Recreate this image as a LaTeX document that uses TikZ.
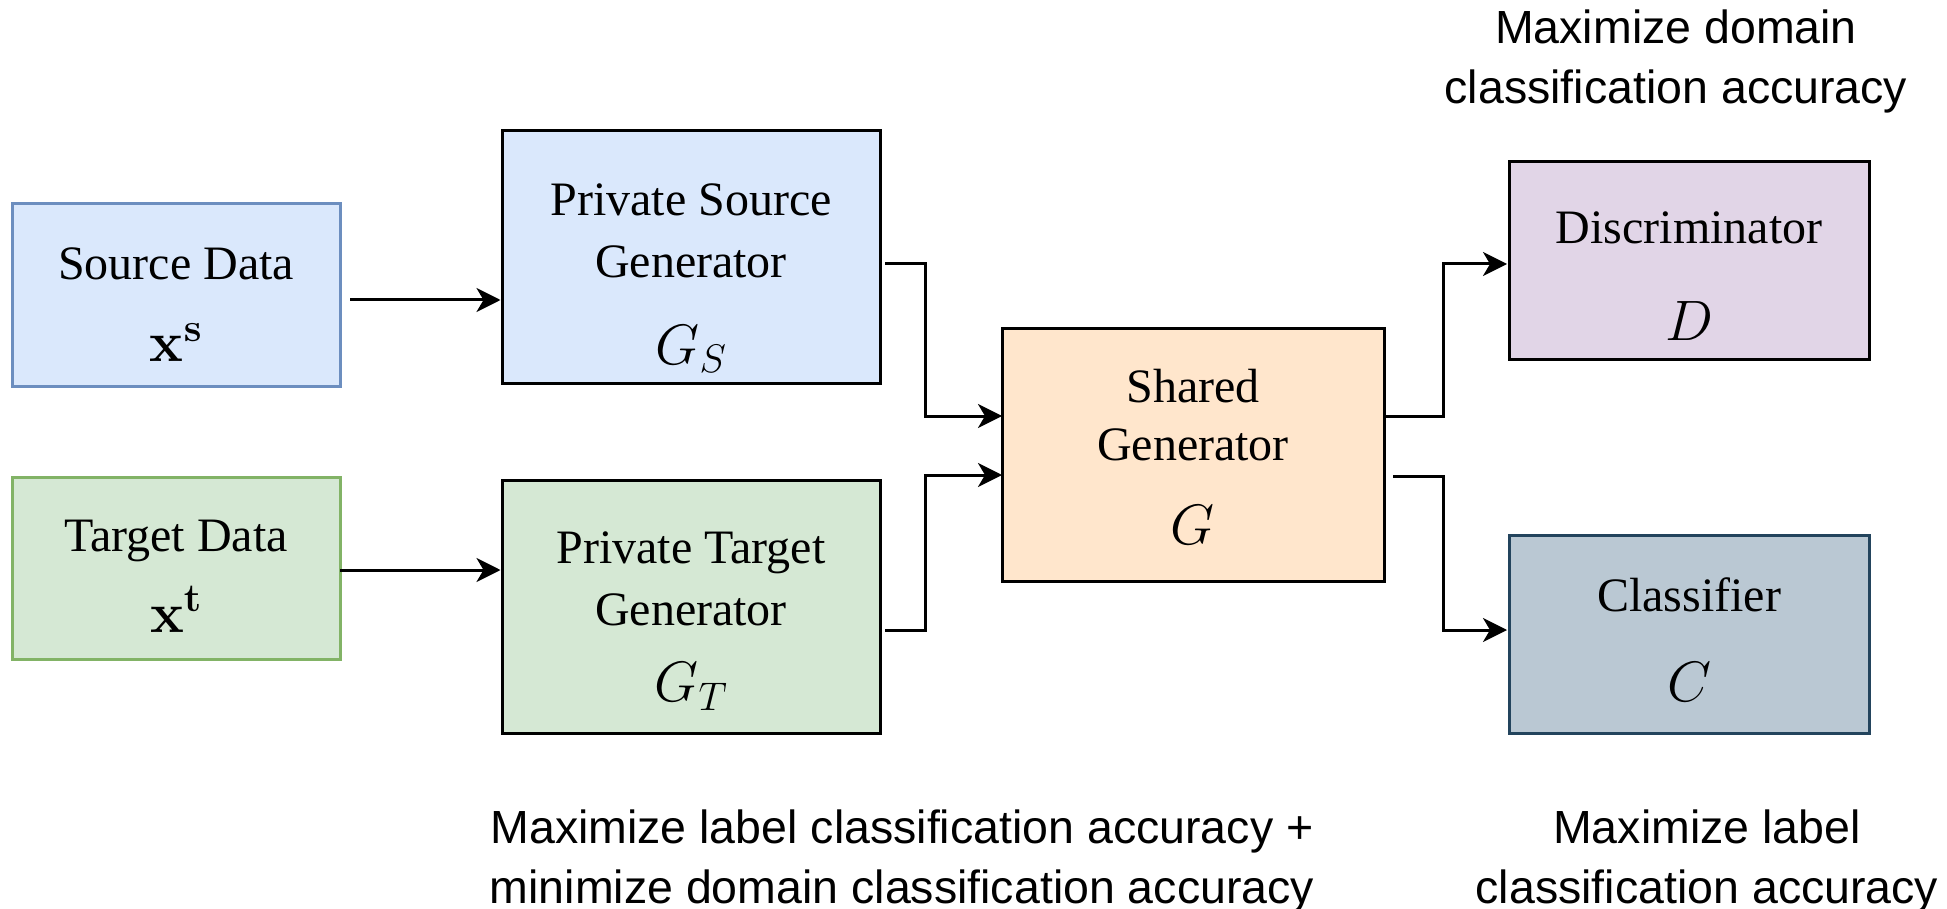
\RequirePackage{fix-cm}
\documentclass[tikz,border=0pt]{standalone}
\usepackage[no-math]{fontspec}
\setmainfont{Liberation Serif}
\newfontfamily\notesans{Liberation Sans}
\usetikzlibrary{arrows.meta,calc}
\definecolor{bluefill}{HTML}{DAE8FC}
\definecolor{bluedraw}{HTML}{6C8EBF}
\definecolor{greenfill}{HTML}{D5E8D4}
\definecolor{greendraw}{HTML}{82B366}
\definecolor{orangefill}{HTML}{FFE6CC}
\definecolor{purplefill}{HTML}{E1D5E7}
\definecolor{slatefill}{HTML}{BAC8D3}
\definecolor{slatedraw}{HTML}{23445D}
\newcommand\mathbig{\fontsize{57}{62}\selectfont}
\begin{document}
\begin{tikzpicture}[x=1pt,y=-1pt,
  box/.style={draw=black, line width=3pt, rectangle, inner sep=0pt},
  boxtext/.style={align=center, inner sep=0pt, font=\fontsize{48}{62}\selectfont},
  note/.style={align=center, inner sep=0pt, font=\notesans\fontsize{46.5}{60}\selectfont},
  arr/.style={line width=3pt, -{Stealth[length=24pt,width=24pt,inset=7pt]}}]
\useasboundingbox (0,0) rectangle (1947,909);

% boxes
\node[box, fill=bluefill, draw=bluedraw, minimum width=328pt, minimum height=182pt] (src) at (176,295) {};
\node[box, fill=greenfill, draw=greendraw, minimum width=328pt, minimum height=182pt] (tgt) at (176,568) {};
\node[box, fill=bluefill, minimum width=378pt, minimum height=253pt] (psg) at (691,257) {};
\node[box, fill=greenfill, minimum width=378pt, minimum height=253pt] (ptg) at (691,607) {};
\node[box, fill=orangefill, minimum width=382pt, minimum height=252pt] (sg) at (1193,455) {};
\node[box, fill=purplefill, minimum width=360pt, minimum height=198pt] (disc) at (1689,261) {};
\node[box, fill=slatefill, draw=slatedraw, minimum width=360pt, minimum height=198pt] (cls) at (1689,634) {};

% box texts
\node[boxtext] (srcT) at ($(src.center)+(0,10)$) {Source Data\\[20pt]\mathbig$\mathbf{x}^{\mathbf{s}}$};
\node[boxtext] (tgtT) at ($(tgt.center)+(0,8)$) {Target Data\\[19pt]\mathbig$\mathbf{x}^{\mathbf{t}}$};
\node[boxtext] (psgT) at ($(psg.center)+(0,21)$) {Private Source\\Generator\\[25pt]\mathbig$G_S$};
\node[boxtext] (ptgT) at ($(ptg.center)+(0,14)$) {Private Target\\Generator\\[14pt]\mathbig$G_T$};
\node[boxtext] (sgT) at ($(sg.center)+(0,2)$) {Shared\\[-4pt]Generator\\[22pt]\mathbig$G$};
\node[boxtext] (discT) at ($(disc.center)+(0,15)$) {Discriminator\\[35pt]\mathbig$D$};
\node[boxtext] (clsT) at ($(cls.center)+(0,6)$) {Classifier\\[28pt]\mathbig$C$};

% notes
\node[note] (noteD) at (1676,61) {Maximize domain\\classification accuracy};
\node[note] (noteG) at (902,861) {Maximize label classification accuracy +\\minimize domain classification accuracy};
\node[note] (noteC) at (1707,861) {Maximize label\\classification accuracy};

% connector end points
\coordinate (srcOut) at (350,300);
\coordinate (tgtOut) at (340,570);
\coordinate (psgOut) at (885,264);
\coordinate (ptgOut) at (885,630);
\coordinate (sgIn1) at (1002,416);
\coordinate (sgIn2) at (1002,475);
\coordinate (sgOut1) at (1384,416);
\coordinate (sgOut2) at (1393,476);
\coordinate (discIn) at (1507,264);
\coordinate (clsIn) at (1507,630);

% connectors
\draw[arr] (srcOut) -- (srcOut -| psg.west);
\draw[arr] (tgtOut) -- (tgtOut -| ptg.west);
\draw[arr] (psgOut) -- ++(40,0) |- (sgIn1);
\draw[arr] (ptgOut) -- ++(40,0) |- (sgIn2);
\draw[arr] (sgOut1) -- ++(59,0) |- (discIn);
\draw[arr] (sgOut2) -- ++(50,0) |- (clsIn);
\end{tikzpicture}
\end{document}
